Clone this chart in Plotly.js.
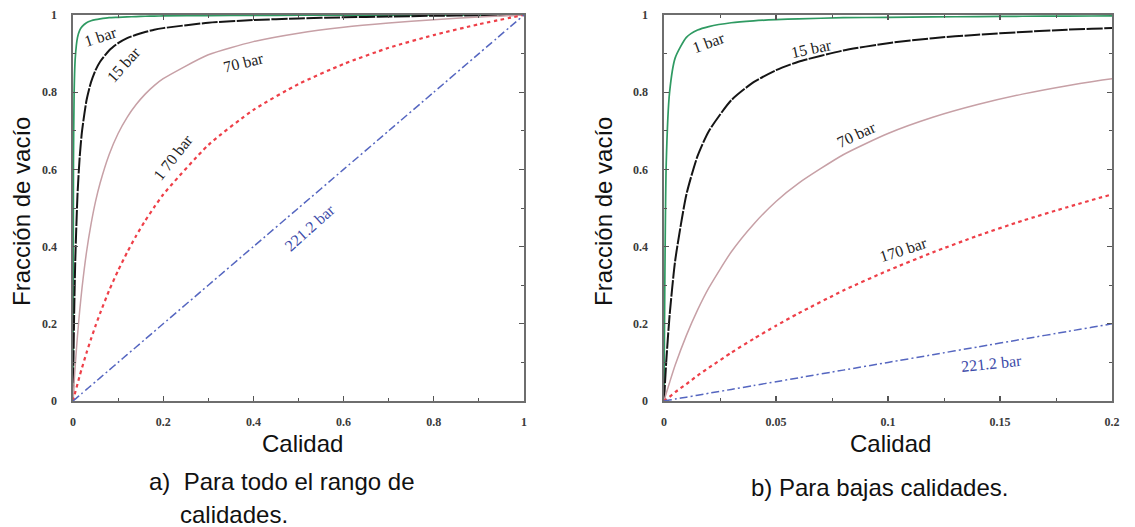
<!DOCTYPE html>
<html>
<head>
<meta charset="utf-8">
<script src="https://cdn.plot.ly/plotly-3.0.1.min.js"></script>
<style>
  html, body { margin: 0; padding: 0; background: #fff; }
  #chart { width: 1135px; height: 527px; }
</style>
</head>
<body>
<div id="chart"></div>
<script>
// Quality (x) sample points and void fraction read for each pressure
const quality = [0, 0.001, 0.0025, 0.005, 0.01, 0.015, 0.02, 0.03, 0.04, 0.05, 0.06, 0.08, 0.1, 0.12, 0.14, 0.16, 0.18, 0.2, 0.3, 0.4, 0.5, 0.6, 0.7, 0.8, 0.9, 1.0];
const bar1   = [0, 0.616, 0.800, 0.889, 0.942, 0.961, 0.970, 0.980, 0.985, 0.988, 0.990, 0.993, 0.994, 0.995, 0.996, 0.9967, 0.9972, 0.9975, 0.9986, 0.9990, 0.9994, 0.9996, 0.9997, 0.9998, 0.9999, 1.0];
const bar15  = [0, 0.102, 0.222, 0.364, 0.535, 0.635, 0.699, 0.779, 0.826, 0.857, 0.879, 0.908, 0.927, 0.940, 0.949, 0.956, 0.962, 0.966, 0.980, 0.987, 0.991, 0.994, 0.996, 0.998, 0.999, 1.0];
const bar70  = [0, 0.020, 0.048, 0.093, 0.170, 0.236, 0.293, 0.386, 0.458, 0.517, 0.564, 0.638, 0.693, 0.735, 0.768, 0.795, 0.817, 0.835, 0.897, 0.931, 0.953, 0.968, 0.979, 0.988, 0.995, 1.0];
const bar170 = [0, 0.005, 0.011, 0.023, 0.044, 0.066, 0.086, 0.125, 0.161, 0.195, 0.227, 0.286, 0.338, 0.385, 0.428, 0.467, 0.502, 0.535, 0.663, 0.754, 0.821, 0.873, 0.915, 0.948, 0.976, 1.0];
const bar221 = [0, 0.001, 0.0025, 0.005, 0.01, 0.015, 0.02, 0.03, 0.04, 0.05, 0.06, 0.08, 0.1, 0.12, 0.14, 0.16, 0.18, 0.2, 0.3, 0.4, 0.5, 0.6, 0.7, 0.8, 0.9, 1.0];

const seriesNames = ["1 bar", "15 bar", "70 bar", "170 bar", "221.2 bar"];
const seriesValues = [bar1, bar15, bar70, bar170, bar221];

const xTicksA = [0, 0.2, 0.4, 0.6, 0.8, 1];
const xTickTextA = ["0", "0.2", "0.4", "0.6", "0.8", "1"];
const xTicksB = [0, 0.05, 0.1, 0.15, 0.2];
const xTickTextB = ["0", "0.05", "0.1", "0.15", "0.2"];
const yTicks = [0, 0.2, 0.4, 0.6, 0.8, 1];
const yTickText = ["0", "0.2", "0.4", "0.6", "0.8", "1"];

const xTitle = "Calidad";
const yTitle = "Fracción de vacío";
const captionA1 = "a)  Para todo el rango de";
const captionA2 = "calidades.";
const captionB = "b) Para bajas calidades.";

// styles
const lineStyles = [
  {color: "#2f9a62", width: 1.7, dash: "solid"},
  {color: "#151515", width: 2.0, dash: "16px,1.5px"},
  {color: "#c7a0a6", width: 1.5, dash: "solid"},
  {color: "#ee3f48", width: 2.2, dash: "3.5px,3.5px"},
  {color: "#5566c0", width: 1.5, dash: "8px,3px,2px,3px"}
];

const traces = [];
["x", "x2"].forEach((xa, k) => {
  seriesNames.forEach((nm, i) => {
    traces.push({
      type: "scatter", mode: "lines",
      x: quality, y: seriesValues[i],
      xaxis: xa, yaxis: k === 0 ? "y" : "y2",
      name: nm, showlegend: false, hoverinfo: "skip",
      line: Object.assign({shape: "spline", smoothing: 0.6}, lineStyles[i])
    });
  });
});

const W = 1135, H = 527;
const plotTop = 15, plotBottom = 401;
const yDom = [1 - plotBottom / H, 1 - plotTop / H];

const tickFont = {family: "Liberation Serif, DejaVu Serif, serif", size: 12, color: "#3a3a3a", weight: "bold"};
function axisBase(extra) {
  return Object.assign({
    showgrid: false, zeroline: false,
    showline: true, linecolor: "#6e6e6e", linewidth: 1.6, mirror: "ticks",
    ticks: "inside", ticklen: 5, tickwidth: 1.2, tickcolor: "#555",
    tickfont: tickFont,
    tickmode: "array",
    fixedrange: true
  }, extra);
}

const layout = {
  width: W, height: H,
  margin: {l: 0, r: 0, t: 0, b: 0},
  paper_bgcolor: "#fff", plot_bgcolor: "#fff",
  showlegend: false,
  xaxis: axisBase({domain: [73 / W, 524 / W], range: [0, 1], tickvals: xTicksA, ticktext: xTickTextA, anchor: "y",
    ticklabelstandoff: 9,
    minor: {ticks: "inside", dtick: 0.1, ticklen: 3, tickcolor: "#555", tickwidth: 1}}),
  yaxis: axisBase({domain: yDom, range: [0, 1], tickvals: yTicks, ticktext: yTickText, anchor: "x",
    ticklabelstandoff: 12,
    minor: {ticks: "inside", dtick: 0.1, ticklen: 3, tickcolor: "#555", tickwidth: 1}}),
  xaxis2: axisBase({domain: [664 / W, 1112 / W], range: [0, 0.2], tickvals: xTicksB, ticktext: xTickTextB, anchor: "y2",
    ticklabelstandoff: 9,
    minor: {ticks: "inside", dtick: 0.025, ticklen: 3, tickcolor: "#555", tickwidth: 1}}),
  yaxis2: axisBase({domain: yDom, range: [0, 1], tickvals: yTicks, ticktext: yTickText, anchor: "x2",
    ticklabelstandoff: 12,
    minor: {ticks: "inside", dtick: 0.1, ticklen: 3, tickcolor: "#555", tickwidth: 1}}),
  annotations: []
};

const sansFont = {family: "Liberation Sans, Arial, sans-serif", size: 24, color: "#111"};
const labFont = {family: "Liberation Serif, DejaVu Serif, serif", size: 16, color: "#222"};

function pix(xp, yp, text, opts) {
  return Object.assign({xref: "paper", yref: "paper", x: xp / W, y: 1 - yp / H, text: text, showarrow: false,
    font: sansFont, xanchor: "center", yanchor: "middle"}, opts || {});
}

layout.annotations.push(
  pix(302, 443, xTitle),
  pix(890, 443, xTitle),
  pix(21, 212, yTitle, {textangle: -90}),
  pix(603, 212, yTitle, {textangle: -90}),
  pix(147, 481, captionA1, {xanchor: "left"}),
  pix(178, 514, captionA2, {xanchor: "left"}),
  pix(879, 487, captionB)
);

// curve labels (data coordinates)
const labelsA = [
  {x: 0.062, y: 0.945, t: "1 bar", a: -18},
  {x: 0.112, y: 0.872, t: "15 bar", a: -48},
  {x: 0.378, y: 0.878, t: "70 bar", a: -14},
  {x: 0.222, y: 0.630, t: "1 70 bar", a: -52},
  {x: 0.525, y: 0.450, t: "221.2 bar", a: -42, c: "#3c4aa8"}
];
const labelsB = [
  {x: 0.020, y: 0.930, t: "1 bar", a: -20},
  {x: 0.066, y: 0.912, t: "15 bar", a: -12},
  {x: 0.086, y: 0.690, t: "70 bar", a: -25},
  {x: 0.107, y: 0.392, t: "170 bar", a: -18},
  {x: 0.146, y: 0.097, t: "221.2 bar", a: -6, c: "#3c4aa8"}
];
labelsA.forEach(l => layout.annotations.push({xref: "x", yref: "y", x: l.x, y: l.y, text: l.t, textangle: l.a,
  showarrow: false, font: Object.assign({}, labFont, l.c ? {color: l.c} : {})}));
labelsB.forEach(l => layout.annotations.push({xref: "x2", yref: "y2", x: l.x, y: l.y, text: l.t, textangle: l.a,
  showarrow: false, font: Object.assign({}, labFont, l.c ? {color: l.c} : {})}));

Plotly.newPlot("chart", traces, layout, {displayModeBar: false, staticPlot: true});
</script>
</body>
</html>
